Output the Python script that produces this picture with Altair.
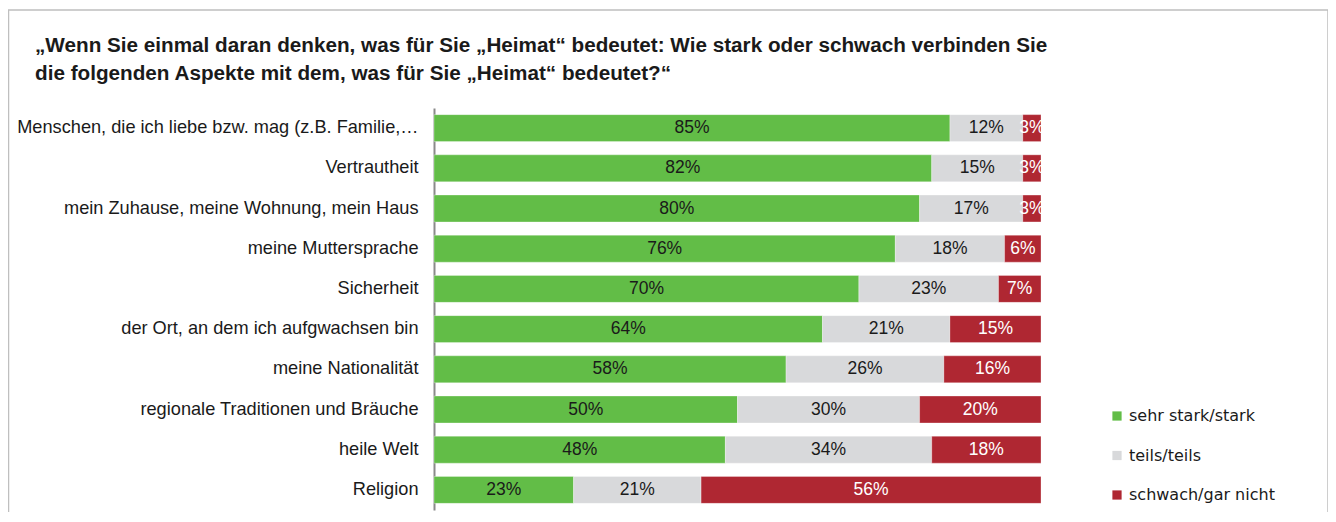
import altair as alt
import pandas as pd

categories = [
    "Menschen, die ich liebe bzw. mag (z.B. Familie,…",
    "Vertrautheit",
    "mein Zuhause, meine Wohnung, mein Haus",
    "meine Muttersprache",
    "Sicherheit",
    "der Ort, an dem ich aufgwachsen bin",
    "meine Nationalität",
    "regionale Traditionen und Bräuche",
    "heile Welt",
    "Religion",
]
series_names = ["sehr stark/stark", "teils/teils", "schwach/gar nicht"]
strong = [85, 82, 80, 76, 70, 64, 58, 50, 48, 23]
partly = [12, 15, 17, 18, 23, 21, 26, 30, 34, 21]
weak = [3, 3, 3, 6, 7, 15, 16, 20, 18, 56]
colors = ["#62BD47", "#D8D9DB", "#AF2732"]
title_lines = [
    "„Wenn Sie einmal daran denken, was für Sie „Heimat“ bedeutet: Wie stark oder schwach verbinden Sie",
    "die folgenden Aspekte mit dem, was für Sie „Heimat“ bedeutet?“",
]

rows = []
for i, cat in enumerate(categories):
    start = 0
    for k, (name, vals) in enumerate(zip(series_names, [strong, partly, weak])):
        v = vals[i]
        rows.append({"cat": cat, "series": name, "order": k, "value": v,
                     "start": start, "end": start + v, "mid": start + v / 2,
                     "label": f"{v}%"})
        start += v
df = pd.DataFrame(rows)

x_scale = alt.Scale(domain=[0, 100], zero=True, nice=False)
y_enc = alt.Y("cat:N", sort=categories, title=None,
              scale=alt.Scale(paddingInner=0.33, paddingOuter=0.165),
              axis=alt.Axis(labelFont="Liberation Sans", labelFontSize=18.2,
                            labelColor="#1a1a1a", labelPadding=16, ticks=False,
                            domainColor="#8a8a8a", domainWidth=2, labelLimit=600,
                            grid=False))

base = alt.Chart(df)

bars = base.mark_bar(stroke="white", strokeWidth=0.5, strokeOpacity=0.6).encode(
    y=y_enc,
    x=alt.X("start:Q", scale=x_scale, axis=None),
    x2="end:Q",
    color=alt.Color("series:N", sort=series_names,
                    scale=alt.Scale(domain=series_names, range=colors),
                    legend=alt.Legend(title=None, orient="none", legendX=675, legendY=300,
                                      symbolType="square", symbolSize=85,
                                      symbolStrokeWidth=0,
                                      labelFont="DejaVu Sans", labelFontSize=16,
                                      labelColor="#1a1a1a", labelOffset=4,
                                      rowPadding=23.5, padding=0)),
)

texts = base.mark_text(font="Liberation Sans", fontSize=17.5, baseline="middle").encode(
    y=alt.Y("cat:N", sort=categories),
    x=alt.X("mid:Q", scale=x_scale),
    text="label:N",
    color=alt.condition(alt.datum.series == "schwach/gar nicht",
                        alt.value("white"), alt.value("#1a1a1a")),
)

frame = alt.Chart(pd.DataFrame({"f": [0]})).mark_rect(
    fillOpacity=0, stroke="#bfbfbf", strokeWidth=1.5
).encode(
    x=alt.value(-425.5), x2=alt.value(894),
    y=alt.value(-98), y2=alt.value(420),
)

title_df = pd.DataFrame({"t": ["\n".join(title_lines)]})
title = alt.Chart(title_df).mark_text(
    font="Liberation Sans", fontSize=20.7, fontWeight="bold", color="#1a1a1a",
    align="left", baseline="alphabetic", lineBreak="\n", lineHeight=28,
).encode(
    text="t:N",
    x=alt.value(-399),
    y=alt.value(-56),
)

chart = alt.layer(frame, bars, texts, title).properties(
    width=607,
    height=402,
    padding={"left": 426, "top": 100, "right": 287, "bottom": 2},
    autosize=alt.AutoSizeParams(type="none"),
).configure_view(stroke=None)

chart.save("out.html", embed_options={"renderer": "svg", "actions": False})
